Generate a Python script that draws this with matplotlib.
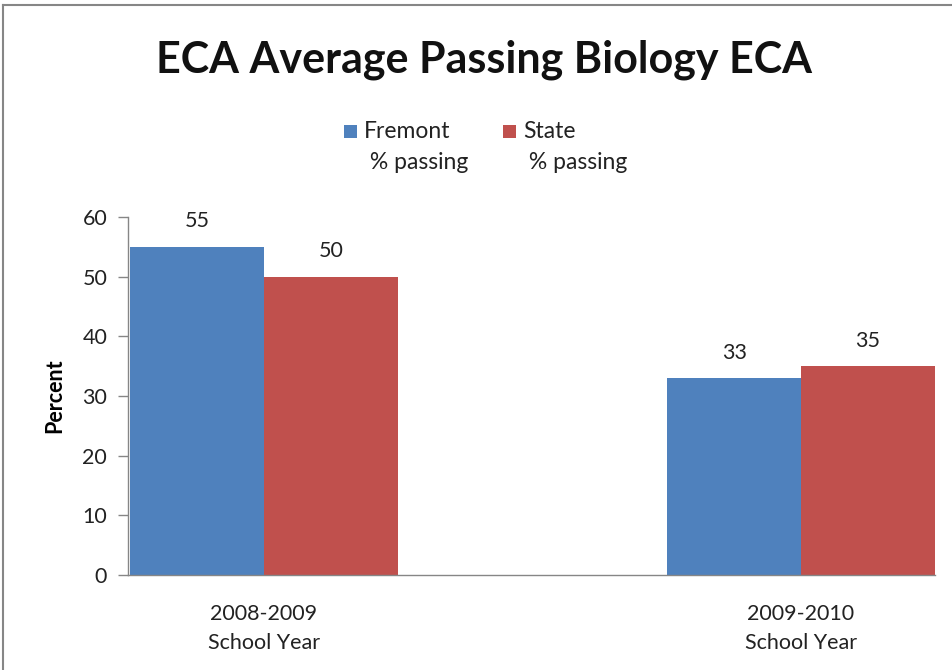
import matplotlib
matplotlib.use("Agg")
import matplotlib.pyplot as plt
from matplotlib.patches import Rectangle
from matplotlib.lines import Line2D

categories = ["2008-2009\nSchool Year", "2009-2010\nSchool Year"]
series_names = ["Fremont\n % passing", "State\n % passing"]
fremont = [55, 33]
state = [50, 35]
colors = ["#4F81BD", "#C0504D"]
yticks = [0, 10, 20, 30, 40, 50, 60]

plt.rcParams['font.family'] = ['Lato', 'DejaVu Sans']

fig = plt.figure(figsize=(9.52, 6.70), dpi=100)
ax = fig.add_axes([128/952, 1-575/670, (935-128)/952, (575-217)/670])

w = 0.249
x = [0, 1]
values = [fremont, state]
for i, (vals, col) in enumerate(zip(values, colors)):
    pos = [xi + (i - 0.5) * w for xi in x]
    bars = ax.bar(pos, vals, width=w, color=col, edgecolor='none')
    for b, v in zip(bars, vals):
        ax.text(b.get_x() + b.get_width()/2, v + 2.6, f"{v}", ha='center', va='bottom',
                fontsize=15.5, color='#222222')

ax.set_xlim(-0.2533, 1.2495)
ax.set_ylim(0, 60)
ax.set_yticks(yticks)
ax.set_yticklabels([str(t) for t in yticks], fontsize=15.5, color='#222222')
ax.set_xticks(x)
ax.set_xticklabels(categories, fontsize=15.5, color='#222222', linespacing=1.55)
ax.tick_params(axis='x', length=0, pad=21)
ax.tick_params(axis='y', length=7, color='#868686', width=1, pad=8)
for s in ['top', 'right']:
    ax.spines[s].set_visible(False)
for s in ['left', 'bottom']:
    ax.spines[s].set_color('#868686')
    ax.spines[s].set_linewidth(1)
ax.set_ylabel("Percent", fontsize=15.5, fontweight='bold', labelpad=12)

fig.text(484/952, 1-60/670, "ECA Average Passing Biology ECA", ha='center', va='center',
         fontsize=31, fontweight='bold', color='#111111')

# legend (manual)
leg_x = [344, 503]
for lx, name, col in zip(leg_x, series_names, colors):
    fig.add_artist(Rectangle((lx/952, 1-138/670), 13/952, 13/670, transform=fig.transFigure,
                             facecolor=col, edgecolor='none'))
    fig.text((lx+20)/952, 1-121/670, name, ha='left', va='top', fontsize=16.5,
             color='#222222', linespacing=1.6)

# outer frame (left and top)
fig.add_artist(Line2D([3/952, 3/952], [0, 1-5/670], transform=fig.transFigure, color='#868686', lw=1.5))
fig.add_artist(Line2D([3/952, 1], [1-5/670, 1-5/670], transform=fig.transFigure, color='#868686', lw=1.5))

fig.savefig("out.png", dpi=100)
